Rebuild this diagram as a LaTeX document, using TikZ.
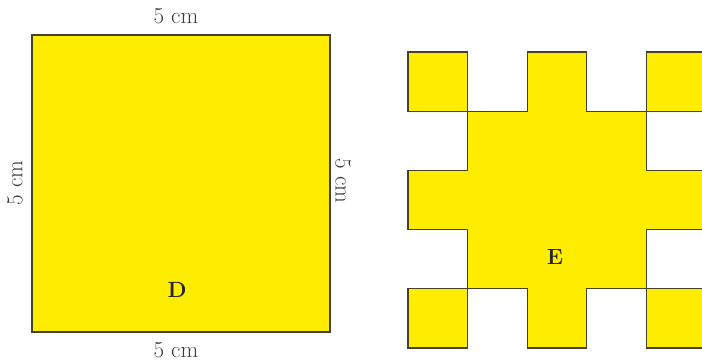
\documentclass[tikz,border=0pt]{standalone}
\definecolor{fillY}{RGB}{255,237,0}
\definecolor{edgeC}{RGB}{70,66,40}
\definecolor{txtC}{RGB}{60,60,60}
\begin{document}
\begin{tikzpicture}[x=1pt,y=-1pt,
  yshape/.style={fill=fillY,draw=edgeC,line width=1.3pt,line join=miter},
  dim/.style={text=txtC,font=\fontsize{23}{26}\selectfont,inner sep=0pt},
  lbl/.style={font=\fontsize{22}{26}\selectfont\bfseries,inner sep=0pt,text=black!85}]
\useasboundingbox (0,0) rectangle (702,362);
\clip (0,0) rectangle (702,362);
% Square D
\path[yshape] (32,35) rectangle (330,332);
\node[lbl] (D) at (177,290) {D};
\node[dim] (top) at (176,16) {5 cm};
\node[dim] (bot) at (176,350) {5 cm};
\node[dim,rotate=90] (left) at (15,183) {5 cm};
\node[dim,rotate=-90] (right) at (343,181) {5 cm};
% Shape E on a grid
\begin{scope}[shift={(408,52)},x=59.6pt,y=-59.2pt]
  \path[yshape] (2,0) -- (3,0) -- (3,1) -- (4,1) -- (4,2) -- (5,2) -- (5,3) -- (4,3) -- (4,4) -- (3,4) -- (3,5) -- (2,5) -- (2,4) -- (1,4) -- (1,3) -- (0,3) -- (0,2) -- (1,2) -- (1,1) -- (2,1) -- cycle;
  \path[yshape] (0,0) rectangle (1,1);
  \path[yshape] (4,0) rectangle (5,1);
  \path[yshape] (0,4) rectangle (1,5);
  \path[yshape] (4,4) rectangle (5,5);
\end{scope}
\node[lbl] (E) at (555,257) {E};
\end{tikzpicture}
\end{document}
